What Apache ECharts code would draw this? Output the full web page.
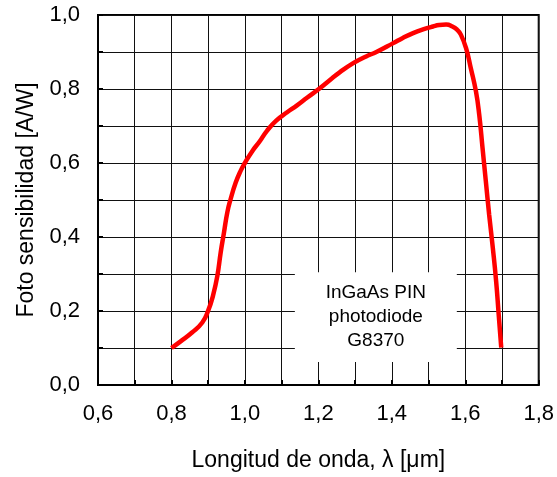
<!DOCTYPE html>
<html>
<head>
<meta charset="utf-8">
<script src="https://cdn.jsdelivr.net/npm/echarts@6/dist/echarts.min.js"></script>
<style>
html,body{margin:0;padding:0;background:#fff;}
#chart{width:557px;height:477px;}
</style>
</head>
<body>
<div id="chart"></div>
<script>
// Data
const wavelength = [0.800, 0.825, 0.856, 0.884, 0.900, 0.913, 0.925, 0.934, 0.943, 0.952, 0.961, 0.975, 0.988, 1.000, 1.020, 1.040, 1.060, 1.086, 1.115, 1.141, 1.170, 1.204, 1.230, 1.258, 1.295, 1.330, 1.358, 1.404, 1.430, 1.458, 1.485, 1.512, 1.529, 1.548, 1.565, 1.578, 1.588, 1.602, 1.615, 1.629, 1.638, 1.647, 1.656, 1.665, 1.675, 1.684, 1.691, 1.698];
const sensitivity = [0.100, 0.118, 0.142, 0.169, 0.201, 0.241, 0.295, 0.358, 0.412, 0.466, 0.502, 0.547, 0.578, 0.600, 0.632, 0.658, 0.687, 0.715, 0.737, 0.755, 0.777, 0.802, 0.823, 0.845, 0.870, 0.888, 0.900, 0.924, 0.938, 0.951, 0.961, 0.969, 0.973, 0.974, 0.969, 0.960, 0.947, 0.911, 0.857, 0.794, 0.731, 0.641, 0.551, 0.461, 0.371, 0.281, 0.191, 0.101];
const xTickLabels = ['0,6', '0,8', '1,0', '1,2', '1,4', '1,6', '1,8'];
const yTickLabels = ['0,0', '0,2', '0,4', '0,6', '0,8', '1,0'];
const xTitle = 'Longitud de onda, λ [μm]';
const yTitle = 'Foto sensibilidad [A/W]';
const noteLines = ['InGaAs PIN', 'photodiode', 'G8370'];
const noteBox = { x: [1.136, 1.577], y: [0.062, 0.305] };

const font = 'Liberation Sans, Arial, sans-serif';
const chart = echarts.init(document.getElementById('chart'));

function xLabel(v) {
  const k = Math.round((v - 0.6) * 10);
  return k % 2 === 0 ? (xTickLabels[k / 2] || '') : '';
}
function yLabel(v) {
  const k = Math.round(v * 10);
  return k % 2 === 0 ? (yTickLabels[k / 2] || '') : '';
}

chart.setOption({
  animation: false,
  backgroundColor: '#fff',
  grid: { left: 98, right: 18, top: 15, bottom: 91, show: true, borderColor: '#000', borderWidth: 2, backgroundColor: 'transparent' },
  xAxis: {
    type: 'value', min: 0.6, max: 1.8, interval: 0.1,
    name: xTitle, nameLocation: 'middle', nameGap: 64,
    nameTextStyle: { fontFamily: font, fontSize: 23, color: '#000' },
    axisLine: { show: true, onZero: false, lineStyle: { color: '#000', width: 2 } },
    axisTick: { show: true, inside: true, length: 5, lineStyle: { color: '#000', width: 2 } },
    axisLabel: { formatter: xLabel, fontFamily: font, fontSize: 22, color: '#000', margin: 18 },
    splitLine: { show: true, lineStyle: { color: '#111', width: 1 } }
  },
  yAxis: {
    type: 'value', min: 0, max: 1.0, interval: 0.1,
    name: yTitle, nameLocation: 'middle', nameGap: 58, nameRotate: 90,
    nameTextStyle: { fontFamily: font, fontSize: 23, color: '#000' },
    axisLine: { show: true, onZero: false, lineStyle: { color: '#000', width: 2 } },
    axisTick: { show: true, inside: true, length: 5, lineStyle: { color: '#000', width: 2 } },
    axisLabel: { formatter: yLabel, fontFamily: font, fontSize: 22, color: '#000', margin: 18 },
    splitLine: { show: true, lineStyle: { color: '#111', width: 1 } }
  },
  series: [{
    type: 'line',
    data: wavelength.map((x, i) => [x, sensitivity[i]]),
    smooth: 0.5,
    showSymbol: false,
    lineStyle: { color: '#ff0000', width: 4.5 },
    z: 3,
    markArea: {
      silent: true,
      itemStyle: { color: '#fff', opacity: 1 },
      label: {
        show: true, position: 'inside', formatter: noteLines.join('\n'),
        fontFamily: font, fontSize: 19, lineHeight: 24, color: '#000'
      },
      data: [[{ coord: [noteBox.x[0], noteBox.y[1]] }, { coord: [noteBox.x[1], noteBox.y[0]] }]]
    }
  }]
});
</script>
</body>
</html>
